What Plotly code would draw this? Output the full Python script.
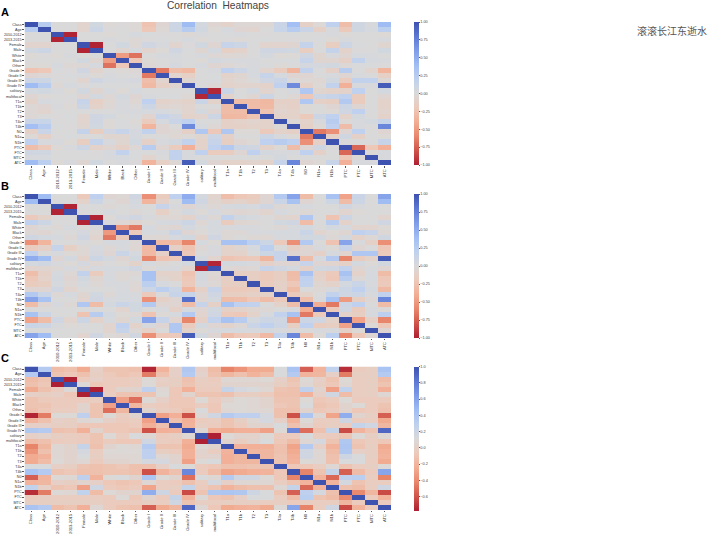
import plotly.graph_objects as go

W, H = 709, 537
labels = ["Class", "Age", "2010-2012", "2013-2015", "Female", "Male", "White", "Black", "Other",
          "Grade I", "Grade II", "Grade III", "Grade IV", "solitary", "multifocal",
          "T1a", "T1b", "T2", "T3", "T4a", "T4b", "N0", "N1a", "N1b", "PTC", "FTC", "MTC", "ATC"]

# Upper triangles of the three correlation matrices (row i holds columns i..27)
corr_a = [
    [1,.25,0,0,-.08,.06,-.02,-.01,-.02,-.25,-.05,.1,.4,.05,-.05,-.1,-.03,-.03,-.03,.12,.38,-.12,-.02,.2,-.28,.08,.02,.4],
    [1,0,0,-.08,.1,-.01,0,-.02,-.22,-.03,.1,.25,.06,-.02,.03,-.05,-.08,0,.13,.25,.12,-.12,.02,-.2,.07,.03,.22],
    [1,-.98,0,0,-.02,0,.03,.01,-.01,0,-.03,.02,0,.01,.02,0,-.01,0,.01,0,-.01,.02,-.02,0,0,-.02],
    [1,0,0,.02,0,-.03,-.01,.01,0,.03,-.02,0,-.01,-.02,0,.01,0,-.01,0,.01,-.02,.02,0,0,.02],
    [1,-.98,0,.06,-.03,.08,.02,-.08,-.01,.06,-.05,.14,.1,0,-.08,-.08,-.06,.16,0,-.16,.1,.01,0,-.06],
    [1,0,-.06,.03,-.08,-.02,.08,.01,-.06,.05,-.14,-.1,0,.08,.08,.06,-.16,0,.16,-.1,-.01,0,.06],
    [1,-.48,-.68,0,.02,.03,0,.03,-.03,-.04,-.03,0,.05,-.02,-.02,.08,-.07,.02,-.05,.03,.02,0],
    [1,-.22,-.02,0,.02,.01,-.02,.05,.02,.02,.02,0,.01,.01,.14,-.06,-.06,-.12,.18,.03,.02],
    [1,-.03,-.01,.04,0,.03,-.05,-.04,-.01,.02,.01,-.02,0,.04,.04,.06,-.03,.01,.01,-.01],
    [1,-.65,-.28,-.32,0,.02,.2,.1,.03,-.08,-.18,-.35,.18,0,-.12,.25,0,-.08,-.35],
    [1,-.08,-.14,0,.01,-.1,-.06,.03,.15,.03,-.05,-.05,0,.02,-.05,.02,0,-.14],
    [1,-.06,0,.01,-.08,-.04,0,.08,.12,0,-.03,-.04,.06,-.18,.18,.18,-.03],
    [1,0,-.03,-.1,-.08,-.08,-.1,.2,.7,-.12,-.02,.18,-.38,.02,.02,.95],
    [1,-.97,.12,0,.05,-.08,0,.03,.3,-.07,-.1,-.1,.2,0,.05],
    [1,-.1,0,-.05,.1,0,-.03,-.22,.1,.15,.2,-.18,0,-.05],
    [1,-.3,-.3,-.33,-.12,-.12,.3,-.12,-.15,.28,-.18,0,-.1],
    [1,-.3,-.32,-.1,-.12,-.02,0,-.05,.1,-.05,0,-.1],
    [1,-.25,-.08,-.1,-.02,0,-.02,.08,.2,0,-.08],
    [1,-.1,-.1,-.2,.1,.2,-.1,.05,0,-.1],
    [1,-.03,-.1,.02,.25,-.02,.02,.05,.15],
    [1,-.12,-.02,.2,-.3,.02,0,.72],
    [1,-.65,-.55,-.05,.2,0,-.05],
    [1,-.12,.08,-.12,0,-.02],
    [1,0,0,0,.15],
    [1,-.72,-.22,-.38],
    [1,-.02,.02],
    [1,.02],
    [1],
]
corr_b = [
    [1,.4,0,0,-.2,.2,-.05,-.03,.08,-.55,-.18,.2,.5,.05,-.08,-.28,-.22,-.18,-.05,.28,.55,-.3,0,.35,-.45,.12,0,.55],
    [1,0,0,-.1,.1,0,-.05,.05,-.35,-.12,0,.4,.08,-.06,-.12,-.1,-.15,-.05,.12,.35,-.05,0,.1,-.3,.1,0,.4],
    [1,-.98,0,0,-.03,0,.03,0,.14,.02,-.05,.02,-.03,.03,.05,.03,.08,-.03,0,.03,0,0,.08,.02,0,0],
    [1,0,0,.03,0,-.03,0,-.14,-.02,.05,-.02,.03,-.03,-.05,-.03,-.08,.03,0,-.03,0,0,-.08,-.02,0,0],
    [1,-.98,-.02,.04,.08,.02,-.03,-.04,-.1,.04,-.03,.18,.06,.03,0,-.06,-.08,.3,0,-.25,.1,0,0,-.08],
    [1,.02,-.04,-.08,-.02,.03,.04,.1,-.04,.03,-.18,-.06,-.03,0,.06,.08,-.3,0,.25,-.1,0,0,.08],
    [1,-.5,-.65,.03,-.03,-.05,.05,0,.03,.02,.03,.02,0,-.03,.02,.05,0,.05,.03,-.08,-.08,-.02],
    [1,-.2,.03,.02,.12,-.05,-.02,.03,-.03,-.03,.02,.02,.03,.03,.12,-.08,-.02,-.06,.2,.15,-.03],
    [1,-.03,-.04,.03,.06,-.1,.08,-.03,0,-.03,-.04,.02,.03,.06,.06,-.03,.05,-.1,-.03,.07],
    [1,-.32,-.32,-.6,.03,-.02,.35,.35,.22,.1,-.2,-.55,.28,0,-.25,.55,.02,-.12,-.55],
    [1,-.12,-.25,-.03,.02,-.1,-.06,.03,.22,0,-.12,-.05,.02,-.02,.15,-.05,0,-.22],
    [1,-.22,0,.02,-.1,-.1,0,.1,.15,-.05,-.05,-.12,.03,-.08,.3,.3,-.2],
    [1,.05,-.08,-.25,-.22,-.2,-.35,.15,.85,-.3,.03,.28,-.6,-.18,-.1,.95],
    [1,-.97,.05,.05,.02,-.12,-.05,-.05,.15,-.05,-.08,-.12,.05,-.02,.06],
    [1,-.03,-.05,-.03,.15,.08,.05,-.12,.06,.08,.18,-.05,.02,-.05],
    [1,-.15,-.15,-.2,-.15,-.3,.35,-.12,-.2,.35,-.1,.03,-.3],
    [1,-.15,-.2,-.15,-.28,.2,-.1,-.22,.25,-.03,.03,-.22],
    [1,-.18,-.12,-.22,.18,-.06,-.1,.05,.12,.02,-.2],
    [1,-.12,-.3,0,-.03,.02,.1,.2,.05,-.32],
    [1,-.2,-.1,0,.18,.08,.1,.02,.18],
    [1,-.28,.02,.35,-.5,-.15,-.03,.72],
    [1,-.4,-.65,.1,.2,0,-.3],
    [1,-.2,.08,-.18,.02,-.02],
    [1,-.1,-.15,.02,.22],
    [1,-.45,-.12,-.6],
    [1,-.02,-.22],
    [1,-.05],
    [1],
]
corr_c = [
    [1,.35,-.15,-.12,-.25,0,-.1,-.1,-.12,-.75,-.2,0,.38,0,-.15,-.42,-.35,-.25,-.25,.12,.42,-.55,-.2,.28,-.72,-.05,-.02,.42],
    [1,-.1,-.08,-.12,-.02,-.06,-.1,-.08,-.45,-.12,0,.35,.03,-.12,-.18,-.12,-.2,-.15,.12,.35,-.2,-.18,0,-.45,-.02,-.02,.35],
    [1,-.98,-.05,0,-.05,-.05,-.03,.1,0,-.02,-.12,-.02,-.05,.08,.08,.08,.1,0,-.1,.1,0,-.1,.1,-.03,-.02,-.15],
    [1,.1,-.08,-.05,-.05,-.03,.1,-.02,-.02,-.1,-.03,-.03,.05,.05,.05,.05,-.02,-.08,.08,-.02,-.08,.08,-.03,-.02,-.1],
    [1,-.98,-.05,.05,.05,.3,.08,-.08,-.22,-.05,-.05,.25,.15,.12,.08,-.1,-.12,.3,.05,-.3,.28,-.03,-.02,-.22],
    [1,-.03,-.1,-.1,-.1,.1,-.08,.05,-.1,-.1,-.12,-.03,-.02,-.05,-.12,-.12,-.2,0,.18,-.15,-.03,-.02,.08],
    [1,-.3,-.5,.1,0,-.08,-.08,.1,-.05,.05,.1,.08,.05,-.1,-.1,.1,-.08,-.05,.1,-.05,-.05,-.05],
    [1,-.18,-.03,-.05,-.08,-.08,-.03,-.08,.1,.1,.08,.05,-.08,-.1,.12,-.1,-.08,.05,.1,-.05,-.1],
    [1,.05,-.03,-.05,-.1,.12,-.08,.08,.1,.08,.08,-.12,-.12,.05,-.08,-.05,.05,-.08,-.05,-.12],
    [1,-.3,-.22,-.6,.08,.18,.35,.3,.3,.15,-.12,-.6,.4,.08,-.28,.55,.05,-.02,-.55],
    [1,-.12,-.22,-.05,-.03,-.1,-.02,.08,.15,0,-.2,.1,-.03,-.03,.2,-.05,-.03,-.25],
    [1,-.2,-.02,-.05,-.1,-.05,.05,.05,.12,-.12,.05,-.05,-.02,-.05,.25,.18,-.18],
    [1,.08,-.22,-.25,-.22,-.22,-.3,.1,.75,-.5,-.12,.25,-.62,-.2,-.1,.9],
    [1,-.97,.1,.05,.03,.1,-.05,-.05,.12,-.03,-.05,-.1,.1,-.02,.08],
    [1,.05,-.03,.05,.12,-.08,-.15,.08,.15,-.1,.38,-.08,-.03,-.08],
    [1,-.2,-.22,-.22,-.12,-.28,.35,0,-.2,.4,-.1,-.02,-.25],
    [1,-.18,-.18,-.12,-.25,.18,.08,-.15,.38,0,-.02,-.22],
    [1,-.18,-.1,-.22,.18,.08,-.12,.2,.12,-.02,-.2],
    [1,-.1,-.2,.1,.08,-.12,.12,.12,-.03,-.25],
    [1,-.08,-.08,-.03,.08,-.1,-.03,-.02,.1],
    [1,-.42,-.1,.25,-.55,-.15,-.05,.6],
    [1,-.2,-.52,.3,.32,-.03,-.42],
    [1,-.2,.15,-.1,-.03,-.03],
    [1,-.12,-.15,-.03,.18],
    [1,-.4,-.18,-.62],
    [1,-.05,-.2],
    [1,-.05],
    [1],
]

def mirror(tri):
    n = len(tri)
    m = [[0.0] * n for _ in range(n)]
    for i, row in enumerate(tri):
        assert len(row) == n - i, (i, len(row))
        for k, v in enumerate(row):
            m[i][i + k] = v
            m[i + k][i] = v
    return m

coolwarm_r = [[0.0, "#ad1f32"], [0.1, "#cf5349"], [0.2, "#e8866c"], [0.3, "#f2ad93"], [0.4, "#eccabb"],
              [0.5, "#d9d9d9"], [0.6, "#bfd1ee"], [0.7, "#a0bdf3"], [0.8, "#7e9ce8"], [0.9, "#5c78d2"],
              [1.0, "#3e52b0"]]

panels = [
    (corr_a, -1.0, 1.0, [1, .75, .5, .25, 0, -.25, -.5, -.75, -1], ".2f", 22, 165.3, "A", 12),
    (corr_b, -1.0, 1.0, [1, .75, .5, .25, 0, -.25, -.5, -.75, -1], ".2f", 194, 338, "B", 186),
    (corr_c, -0.77, 1.0, [1, .8, .6, .4, .2, 0, -.2, -.4, -.6], ".1f", 366.5, 510, "C", 358),
]
X0, X1 = 24.5, 391
CB_X = 413.7

fig = go.Figure()
annotations = []
layout = {}
for i, (tri, zmin, zmax, ticks, fmt, top, bottom, letter, ly) in enumerate(panels):
    s = "" if i == 0 else str(i + 1)
    fig.add_trace(go.Heatmap(
        z=mirror(tri), x=labels, y=labels, zmin=zmin, zmax=zmax, colorscale=coolwarm_r,
        xaxis="x" + s, yaxis="y" + s,
        colorbar=dict(
            x=CB_X / W, xanchor="left", xpad=0, ypad=0, y=1 - top / H, yanchor="top",
            len=(bottom - top) / H, lenmode="fraction", thickness=4.5, thicknessmode="pixels",
            outlinewidth=0, tickmode="array", tickvals=ticks, tickformat=fmt,
            ticks="outside", ticklen=1, tickwidth=0.4, tickcolor="#555",
            tickfont=dict(size=3.8, family="Liberation Sans", color="#444"),
        ),
    ))
    tick = dict(tickmode="array", ticks="outside", ticklen=1.2, tickwidth=0.4, tickcolor="#555",
                showgrid=False, zeroline=False, showline=False, automargin=False,
                tickvals=labels, ticktext=labels)
    layout["xaxis" + s] = dict(domain=[X0 / W, X1 / W], anchor="y" + s, side="bottom", tickangle=-90,
                               tickfont=dict(size=4.2, family="Liberation Sans", color="#333"), **tick)
    layout["yaxis" + s] = dict(domain=[1 - bottom / H, 1 - top / H], anchor="x" + s, autorange="reversed",
                               tickfont=dict(size=3.7, family="Liberation Sans", color="#333"), **tick)
    annotations.append(dict(text="<b>%s</b>" % letter, x=5 / W, y=1 - ly / H, xref="paper", yref="paper",
                            xanchor="center", yanchor="middle", showarrow=False,
                            font=dict(size=11, family="Liberation Sans", color="#000")))

annotations.append(dict(text="Correlation  Heatmaps", x=217.5 / W, y=1 - 5 / H, xref="paper", yref="paper",
                        xanchor="center", yanchor="middle", showarrow=False,
                        font=dict(size=10.2, family="Liberation Sans", color="#444")))
annotations.append(dict(text="滚滚长江东逝水", x=672 / W, y=1 - 31 / H, xref="paper", yref="paper",
                        xanchor="center", yanchor="middle", showarrow=False,
                        font=dict(size=10, family="Noto Sans CJK SC", color="#555")))

fig.update_layout(width=W, height=H, margin=dict(l=0, r=0, t=0, b=0), paper_bgcolor="white",
                  plot_bgcolor="white", annotations=annotations, **layout)
fig.write_html("out.html", config={"displayModeBar": False},
               post_script="document.body.style.margin='0';document.documentElement.style.overflow='hidden';")
